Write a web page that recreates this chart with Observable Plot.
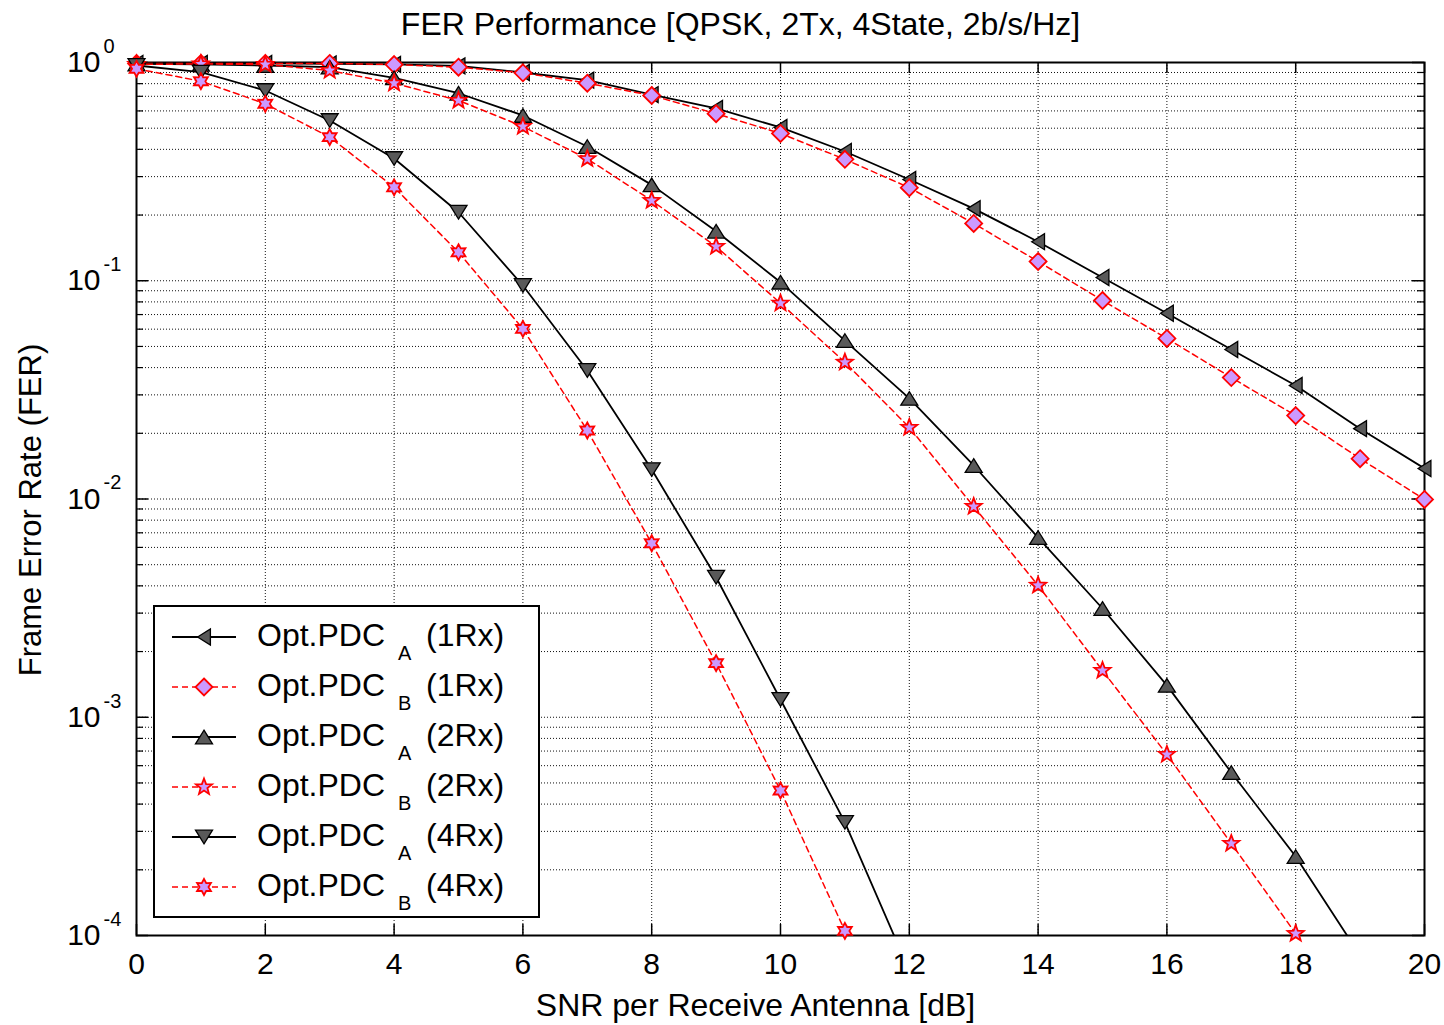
<!DOCTYPE html>
<html><head><meta charset="utf-8">
<script src="https://cdn.jsdelivr.net/npm/d3@7"></script>
<script src="https://cdn.jsdelivr.net/npm/@observablehq/plot@0.6"></script>
<style>body{margin:0;background:#fff} svg{display:block}</style>
</head><body><div id="chart"></div>
<script>
// ---------------- data ----------------
const snr = [0,1,2,3,4,5,6,7,8,9,10,11,12,13,14,15,16,17,18,19,20];
const ferA1 = [0.99,0.99,0.99,0.985,0.98,0.965,0.90,0.83,0.713,0.616,0.504,0.391,0.291,0.214,0.151,0.1035,0.071,0.0484,0.0331,0.021,0.0138];
const ferB1 = [0.99,0.99,0.99,0.99,0.979,0.952,0.897,0.804,0.706,0.583,0.473,0.360,0.267,0.183,0.1226,0.0812,0.0544,0.036,0.0241,0.0153,0.00995];
const ferA2 = [0.985,0.98,0.969,0.952,0.851,0.723,0.572,0.412,0.275,0.1686,0.0985,0.0532,0.0289,0.01424,0.00666,0.00315,0.0014,0.000558,0.00023,0.000081];
const ferB2 = [0.98,0.985,0.979,0.919,0.804,0.670,0.509,0.362,0.233,0.1435,0.0789,0.0423,0.02127,0.00924,0.00402,0.001638,0.000675,0.000264,0.000102];
const ferA4 = [0.969,0.903,0.744,0.542,0.363,0.206,0.0951,0.0388,0.01364,0.00438,0.001206,0.00033,0.000069];
const ferB4 = [0.936,0.821,0.647,0.455,0.268,0.135,0.0602,0.0206,0.00627,0.00177,0.000462,0.000105];

const xTicks = [0,2,4,6,8,10,12,14,16,18,20];
const yMajorTicks = [1,0.1,0.01,0.001,0.0001];
const yExponents = ["0","-1","-2","-3","-4"];
const legendNames = ["Opt.PDC","Opt.PDC","Opt.PDC","Opt.PDC","Opt.PDC","Opt.PDC"];
const legendSubs = ["A","B","A","B","A","B"];
const legendRx = ["(1Rx)","(1Rx)","(2Rx)","(2Rx)","(4Rx)","(4Rx)"];
const titleText = "FER Performance [QPSK, 2Tx, 4State, 2b/s/Hz]";
const xLabel = "SNR per Receive Antenna [dB]";
const yLabel = "Frame Error Rate (FER)";

// ---------------- symbols ----------------
function poly(pts){return {draw(ctx,size){const R=Math.sqrt(size/Math.PI);pts.forEach(([a,b],i)=>i?ctx.lineTo(a*R,b*R):ctx.moveTo(a*R,b*R));ctx.closePath();}};}
const triLeft = poly([[-0.8,0],[0.8,-1],[0.8,1]]);
const triUp = poly([[0,-0.8],[1,0.8],[-1,0.8]]);
const triDown = poly([[0,0.8],[1,-0.8],[-1,-0.8]]);
const diamond = poly([[0,-1],[1,0],[0,1],[-1,0]]);
function starPts(n, inner){const p=[];for(let i=0;i<2*n;i++){const a=-Math.PI/2+i*Math.PI/n;const r=i%2?inner:1;p.push([r*Math.cos(a),r*Math.sin(a)]);}return p;}
const star5 = poly(starPts(5,0.42));
const hexagram = poly(starPts(6,0.56));

const rows = (vals) => vals.map((v,i)=>({snr: snr[i], fer: v}));
const GRAY = "#595959", LAV = "#cc99ff", RED = "#ff0000";
const series = [
  {vals: ferA1, sym: triLeft, r: 8, solid: true},
  {vals: ferB1, sym: diamond, r: 8.5, solid: false},
  {vals: ferA2, sym: triUp, r: 8.5, solid: true},
  {vals: ferB2, sym: star5, r: 8.5, solid: false},
  {vals: ferA4, sym: triDown, r: 8.5, solid: true},
  {vals: ferB4, sym: hexagram, r: 8, solid: false}
];

// grid values
const gridY = [];
for (const base of [0.0001,0.001,0.01,0.1]) for (const k of [1,2,3,4,5,6,7,8,9]) if (!(base===0.0001 && k===1)) gridY.push(base*k);
const minorY = gridY.filter(v => !yMajorTicks.some(m => Math.abs(m - v) < 1e-12));
const gridX = xTicks.slice(1, -1);

const W = 1444, H = 1025, ML = 136, MR = 20, MT = 62, MB = 90;
const PW = W - ML - MR, PH = H - MT - MB;
const font = "Liberation Sans, Arial, Helvetica, sans-serif";

const marks = [
  Plot.ruleY(gridY, {y: d => d, stroke: "#111", strokeDasharray: "1,2", strokeWidth: 1}),
  Plot.ruleX(gridX, {x: d => d, stroke: "#111", strokeDasharray: "1,2", strokeWidth: 1}),
  Plot.frame({stroke: "black", strokeWidth: 2}),
  Plot.tickY(yMajorTicks, {y: d => d, stroke: "black", strokeWidth: 1.5, insetRight: PW - 12}),
  Plot.tickY(yMajorTicks, {y: d => d, stroke: "black", strokeWidth: 1.5, insetLeft: PW - 12}),
  Plot.tickY(minorY, {y: d => d, stroke: "black", strokeWidth: 1.2, insetRight: PW - 7}),
  Plot.tickY(minorY, {y: d => d, stroke: "black", strokeWidth: 1.2, insetLeft: PW - 7}),
  Plot.tickX(xTicks, {x: d => d, stroke: "black", strokeWidth: 1.5, insetTop: PH - 11}),
  Plot.tickX(xTicks, {x: d => d, stroke: "black", strokeWidth: 1.5, insetBottom: PH - 11}),
  // tick labels
  Plot.text(xTicks, {x: d => d, text: d => String(d), frameAnchor: "bottom", dy: 29, fontSize: 30, lineAnchor: "middle", fill: "black"}),
  Plot.text(yMajorTicks, {y: d => d, text: () => "10", frameAnchor: "left", textAnchor: "end", dx: -36, fontSize: 30, lineAnchor: "middle", fill: "black"}),
  Plot.text(yMajorTicks.map((v,i)=>({v, e: yExponents[i]})), {y: "v", text: "e", frameAnchor: "left", textAnchor: "start", dx: -33, dy: -16, fontSize: 20, lineAnchor: "middle", fill: "black"}),
  // labels
  Plot.text([titleText], {text: d => d, frameAnchor: "top", textAnchor: "middle", dx: -40, dy: -38, fontSize: 32, lineAnchor: "middle", fill: "black"}),
  Plot.text([xLabel], {text: d => d, frameAnchor: "bottom", textAnchor: "middle", dx: -25, dy: 70, fontSize: 32, lineAnchor: "middle", fill: "black"}),
  Plot.text([yLabel], {text: d => d, frameAnchor: "left", textAnchor: "middle", dx: -105, dy: 11, rotate: -90, fontSize: 31, lineAnchor: "middle", fill: "black"})
];

for (const s of series) {
  const data = rows(s.vals);
  marks.push(Plot.line(data, s.solid
    ? {x: "snr", y: "fer", stroke: "black", strokeWidth: 1.8, clip: true}
    : {x: "snr", y: "fer", stroke: RED, strokeWidth: 1.5, strokeDasharray: "6,4", clip: true}));
  marks.push(Plot.dot(data.filter(d => d.fer >= 9.5e-5), s.solid
    ? {x: "snr", y: "fer", symbol: s.sym, r: s.r, fill: GRAY, stroke: "black", strokeWidth: 1.3}
    : {x: "snr", y: "fer", symbol: s.sym, r: s.r, fill: LAV, stroke: RED, strokeWidth: 1.8}));
}

const chart = Plot.plot({
  width: W, height: H,
  marginLeft: ML, marginRight: MR, marginTop: MT, marginBottom: MB,
  x: {domain: [0, 20], axis: null},
  y: {type: "log", domain: [0.0001, 1], axis: null},
  style: {fontFamily: font, background: "white", overflow: "visible", color: "black"},
  marks
});
document.getElementById("chart").appendChild(chart);

// ---------------- legend ----------------
const svg = d3.select(chart.tagName.toLowerCase() === "svg" ? chart : chart.querySelector("svg"));
const lg = svg.append("g").attr("font-family", font).attr("text-anchor", "start");
lg.append("rect").attr("x", 154).attr("y", 606).attr("width", 385).attr("height", 311)
  .attr("fill", "white").attr("stroke", "black").attr("stroke-width", 2);
series.forEach((s, i) => {
  const cy = 637 + i * 50;
  lg.append("line").attr("x1", 172).attr("x2", 236).attr("y1", cy).attr("y2", cy)
    .attr("stroke", s.solid ? "black" : RED).attr("stroke-width", s.solid ? 1.8 : 1.5)
    .attr("stroke-dasharray", s.solid ? null : "6,4");
  lg.append("path").attr("transform", `translate(204,${cy})`)
    .attr("d", d3.symbol(s.sym, Math.PI * s.r * s.r)())
    .attr("fill", s.solid ? GRAY : LAV).attr("stroke", s.solid ? "black" : RED)
    .attr("stroke-width", s.solid ? 1.3 : 1.8);
  lg.append("text").attr("x", 257).attr("y", cy + 9).attr("font-size", 32).attr("text-anchor", "start").text(legendNames[i]);
  lg.append("text").attr("x", 398).attr("y", cy + 23).attr("font-size", 20).attr("text-anchor", "start").text(legendSubs[i]);
  lg.append("text").attr("x", 426).attr("y", cy + 9).attr("font-size", 32).attr("text-anchor", "start").text(legendRx[i]);
});
</script>
</body></html>
